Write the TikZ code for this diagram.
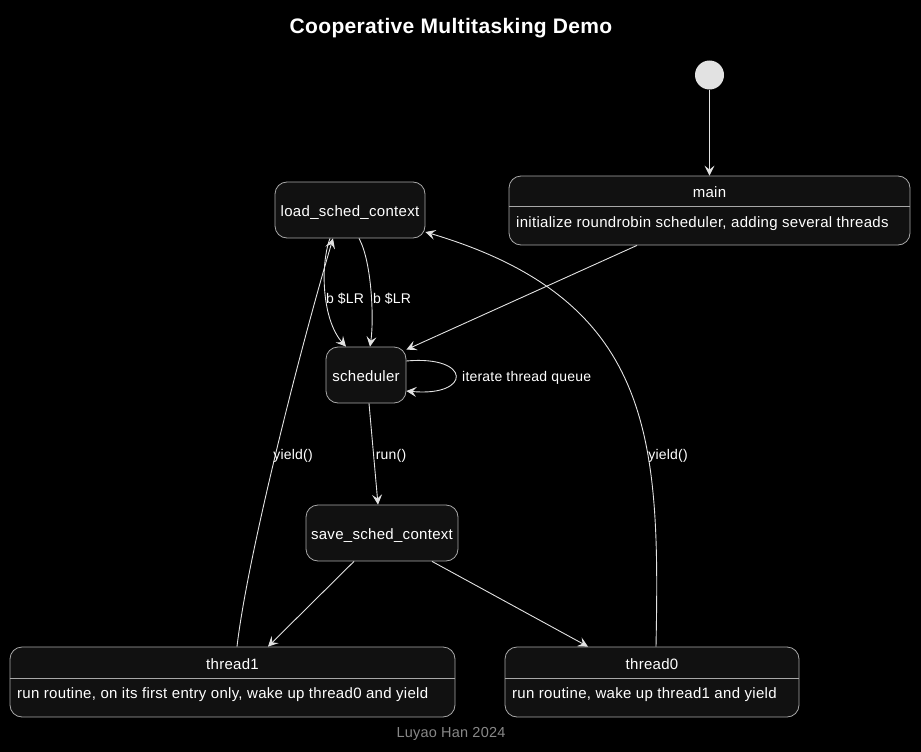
\documentclass[tikz,border=0pt]{standalone}
\usepackage{fontspec}
\setmainfont{Liberation Sans}
\usetikzlibrary{arrows.meta,positioning,calc}
\definecolor{statefill}{HTML}{111111}
\definecolor{stateedge}{HTML}{A8A8A8}
\definecolor{linkgray}{HTML}{E2E2E2}
\definecolor{startgray}{HTML}{E2E2E2}
\definecolor{footgray}{HTML}{888888}
\newcommand{\stfont}{\fontsize{15}{18}\selectfont\addfontfeatures{LetterSpace=2}}
\newcommand{\lblfont}{\fontsize{14}{16}\selectfont\addfontfeatures{LetterSpace=1.5}}

\begin{document}
\begin{tikzpicture}[
  x=1pt, y=-1pt,
  stbox/.style={draw=stateedge, fill=statefill, rounded corners=12pt, line width=0.8pt, inner sep=0pt, text=white, font=\stfont, text height=14pt, text depth=2pt},
  sttext/.style={text=white, font=\stfont, inner sep=0pt},
  lbl/.style={text=white, font=\lblfont, inner sep=0pt},
  arr/.style={-{Stealth[length=10pt, width=10pt, inset=4pt]}, draw=linkgray, line width=0.9pt}
]
\useasboundingbox[fill=black] (0,0) rectangle (921,752);

\node[text=white, font=\bfseries\fontsize{21}{24}\selectfont\addfontfeatures{LetterSpace=1.6}] (title) at (451,28) {Cooperative Multitasking Demo};
\node[circle, fill=startgray, minimum size=29pt, inner sep=0pt] (start) at (709.5,75) {};

\node[stbox, minimum width=150pt, minimum height=56pt] (load) at (350,210) {load\_sched\_context};
\node[stbox, minimum width=80pt, minimum height=56pt] (sched) at (366,375) {scheduler};
\node[stbox, minimum width=152pt, minimum height=56pt] (save) at (382,533) {save\_sched\_context};

\node[stbox, minimum width=401pt, minimum height=69pt] (main) at (709.5,210.5) {};
\node[sttext] (main-title) at (709.5,192) {main};
\draw[stateedge, line width=0.8pt] ([yshift=4.5pt]main.west) -- ([yshift=4.5pt]main.east);
\node[sttext, anchor=west] (main-body) at (516,224) {initialize roundrobin scheduler, adding several threads};

\node[stbox, minimum width=445pt, minimum height=70pt] (thread1) at (232.5,682) {};
\node[sttext] (thread1-title) at (232.5,664) {thread1};
\draw[stateedge, line width=0.8pt] ([yshift=4pt]thread1.west) -- ([yshift=4pt]thread1.east);
\node[sttext, anchor=west] (thread1-body) at (17,695) {run routine, on its first entry only, wake up thread0 and yield};

\node[stbox, minimum width=294pt, minimum height=70pt] (thread0) at (652,682) {};
\node[sttext] (thread0-title) at (652,664) {thread0};
\draw[stateedge, line width=0.8pt] ([yshift=4pt]thread0.west) -- ([yshift=4pt]thread0.east);
\node[sttext, anchor=west] (thread0-body) at (512,695) {run routine, wake up thread1 and yield};

\node[text=footgray, font=\fontsize{14.5}{17}\selectfont\addfontfeatures{LetterSpace=1.5}] (footer) at (451,734) {Luyao Han 2024};

\draw[arr] (start) -- (main.north);
\draw[arr] ([xshift=-72.5pt]main.south) -- ([yshift=-3pt]sched.north east);
\draw[arr] ([xshift=-20pt]load.south) .. controls (320,265) and (322,320) .. ([xshift=-20pt]sched.north);
\node[lbl] (lr-left) at (345,299) {b \$LR};
\draw[arr] ([xshift=9pt]load.south) .. controls (372,262) and (374,320) .. ([xshift=4pt]sched.north);
\node[lbl] (lr-right) at (392,299) {b \$LR};
\draw[arr] ([yshift=14pt]sched.east) .. controls (472,355) and (472,397) .. ([yshift=-16pt]sched.east);
\node[lbl, anchor=west] (loop-lbl) at (462,378) {iterate thread queue};
\draw[arr] ([xshift=3pt]sched.south) -- ([xshift=-4pt]save.north);
\node[lbl] (run-lbl) at (391,456) {run()};
\draw[arr] ([xshift=-28pt]save.south) -- ([xshift=35.5pt]thread1.north);
\draw[arr] ([xshift=50pt]save.south) -- ([xshift=-64pt]thread0.north);
\draw[arr] ([xshift=4.5pt]thread1.north) .. controls (247,560) and (297,360) .. ([xshift=-17pt]load.south);
\node[lbl] (yield1-lbl) at (293,456) {yield()};
\draw[arr] ([xshift=4pt]thread0.north) .. controls (660,440) and (655,300) .. ([yshift=-22pt]load.east);
\node[lbl] (yield0-lbl) at (668,456) {yield()};
\end{tikzpicture}
\end{document}
